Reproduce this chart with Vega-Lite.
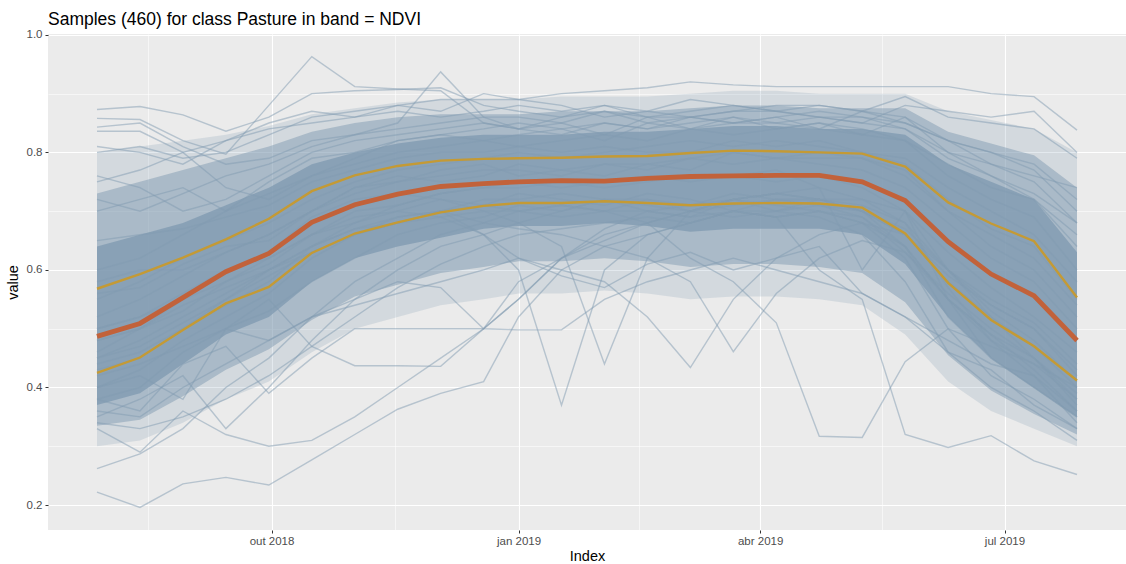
{
"$schema": "https://vega.github.io/schema/vega-lite/v6.json",
"width": 1078, "height": 496,
"autosize": "none",
"padding": {"left": 48, "top": 34, "right": 0, "bottom": 34},
"background": "white",
"title": {"text": "Samples (460) for class Pasture in band = NDVI", "anchor": "start", "frame": "group", "fontSize": 17.5, "font": "Liberation Sans", "fontWeight": "normal", "color": "black", "baseline": "alphabetic", "offset": -14},
"config": {
  "view": {"fill": "#EBEBEB", "stroke": null},
  "axis": {"domain": false, "labelColor": "#4D4D4D", "labelFont": "Liberation Sans", "labelFontSize": 11.5, "titleFont": "Liberation Sans", "titleFontSize": 14.5, "titleFontWeight": "normal", "titleColor": "black", "tickColor": "#333333", "tickSize": 3, "tickWidth": 1, "gridColor": "white"}
},
"datasets": {
"q": [
{"i":0,"d":"2018-07-28","med":0.487,"q25":0.425,"q75":0.568,"lo1":0.37,"hi1":0.64,"lo2":0.335,"hi2":0.73,"lo3":0.30,"hi3":0.80},
{"i":1,"d":"2018-08-13","med":0.509,"q25":0.451,"q75":0.593,"lo1":0.39,"hi1":0.66,"lo2":0.345,"hi2":0.75,"lo3":0.31,"hi3":0.81},
{"i":2,"d":"2018-08-29","med":0.553,"q25":0.498,"q75":0.621,"lo1":0.44,"hi1":0.68,"lo2":0.385,"hi2":0.77,"lo3":0.34,"hi3":0.82},
{"i":3,"d":"2018-09-14","med":0.597,"q25":0.543,"q75":0.652,"lo1":0.49,"hi1":0.71,"lo2":0.43,"hi2":0.79,"lo3":0.38,"hi3":0.83},
{"i":4,"d":"2018-09-30","med":0.628,"q25":0.571,"q75":0.687,"lo1":0.52,"hi1":0.74,"lo2":0.465,"hi2":0.81,"lo3":0.41,"hi3":0.845},
{"i":5,"d":"2018-10-16","med":0.681,"q25":0.629,"q75":0.734,"lo1":0.58,"hi1":0.78,"lo2":0.515,"hi2":0.835,"lo3":0.46,"hi3":0.865},
{"i":6,"d":"2018-11-01","med":0.711,"q25":0.662,"q75":0.761,"lo1":0.62,"hi1":0.80,"lo2":0.555,"hi2":0.85,"lo3":0.50,"hi3":0.875},
{"i":7,"d":"2018-11-17","med":0.729,"q25":0.681,"q75":0.777,"lo1":0.64,"hi1":0.815,"lo2":0.575,"hi2":0.86,"lo3":0.52,"hi3":0.885},
{"i":8,"d":"2018-12-03","med":0.742,"q25":0.698,"q75":0.786,"lo1":0.655,"hi1":0.825,"lo2":0.595,"hi2":0.865,"lo3":0.54,"hi3":0.89},
{"i":9,"d":"2018-12-19","med":0.747,"q25":0.709,"q75":0.789,"lo1":0.67,"hi1":0.83,"lo2":0.605,"hi2":0.865,"lo3":0.55,"hi3":0.89},
{"i":10,"d":"2019-01-01","med":0.750,"q25":0.714,"q75":0.790,"lo1":0.675,"hi1":0.83,"lo2":0.615,"hi2":0.865,"lo3":0.56,"hi3":0.89},
{"i":11,"d":"2019-01-17","med":0.752,"q25":0.714,"q75":0.791,"lo1":0.675,"hi1":0.83,"lo2":0.615,"hi2":0.87,"lo3":0.56,"hi3":0.895},
{"i":12,"d":"2019-02-02","med":0.751,"q25":0.717,"q75":0.793,"lo1":0.68,"hi1":0.835,"lo2":0.62,"hi2":0.87,"lo3":0.565,"hi3":0.895},
{"i":13,"d":"2019-02-18","med":0.756,"q25":0.714,"q75":0.794,"lo1":0.675,"hi1":0.835,"lo2":0.615,"hi2":0.87,"lo3":0.56,"hi3":0.895},
{"i":14,"d":"2019-03-06","med":0.759,"q25":0.710,"q75":0.799,"lo1":0.665,"hi1":0.84,"lo2":0.605,"hi2":0.875,"lo3":0.55,"hi3":0.90},
{"i":15,"d":"2019-03-22","med":0.760,"q25":0.713,"q75":0.803,"lo1":0.67,"hi1":0.845,"lo2":0.61,"hi2":0.88,"lo3":0.555,"hi3":0.905},
{"i":16,"d":"2019-04-07","med":0.761,"q25":0.714,"q75":0.802,"lo1":0.67,"hi1":0.845,"lo2":0.61,"hi2":0.88,"lo3":0.555,"hi3":0.905},
{"i":17,"d":"2019-04-23","med":0.761,"q25":0.713,"q75":0.800,"lo1":0.67,"hi1":0.84,"lo2":0.605,"hi2":0.875,"lo3":0.55,"hi3":0.90},
{"i":18,"d":"2019-05-09","med":0.750,"q25":0.706,"q75":0.798,"lo1":0.66,"hi1":0.84,"lo2":0.595,"hi2":0.875,"lo3":0.54,"hi3":0.90},
{"i":19,"d":"2019-05-25","med":0.718,"q25":0.662,"q75":0.776,"lo1":0.61,"hi1":0.83,"lo2":0.545,"hi2":0.875,"lo3":0.49,"hi3":0.90},
{"i":20,"d":"2019-06-10","med":0.648,"q25":0.578,"q75":0.715,"lo1":0.52,"hi1":0.78,"lo2":0.455,"hi2":0.835,"lo3":0.41,"hi3":0.87},
{"i":21,"d":"2019-06-26","med":0.593,"q25":0.515,"q75":0.679,"lo1":0.45,"hi1":0.75,"lo2":0.395,"hi2":0.815,"lo3":0.36,"hi3":0.855},
{"i":22,"d":"2019-07-12","med":0.556,"q25":0.470,"q75":0.649,"lo1":0.40,"hi1":0.72,"lo2":0.355,"hi2":0.795,"lo3":0.33,"hi3":0.84},
{"i":23,"d":"2019-07-28","med":0.480,"q25":0.412,"q75":0.553,"lo1":0.35,"hi1":0.63,"lo2":0.32,"hi2":0.74,"lo3":0.30,"hi3":0.80}
],
"s": [
{"s":1,"i":0,"v":0.873},{"s":1,"i":1,"v":0.878},{"s":1,"i":2,"v":0.864},{"s":1,"i":3,"v":0.836},{"s":1,"i":4,"v":0.86},{"s":1,"i":5,"v":0.90},{"s":1,"i":6,"v":0.905},{"s":1,"i":7,"v":0.907},{"s":1,"i":8,"v":0.91},{"s":1,"i":9,"v":0.88},{"s":1,"i":10,"v":0.87},{"s":1,"i":11,"v":0.86},{"s":1,"i":12,"v":0.88},{"s":1,"i":13,"v":0.86},{"s":1,"i":14,"v":0.87},{"s":1,"i":15,"v":0.88},{"s":1,"i":16,"v":0.87},{"s":1,"i":17,"v":0.86},{"s":1,"i":18,"v":0.86},{"s":1,"i":19,"v":0.85},{"s":1,"i":20,"v":0.82},{"s":1,"i":21,"v":0.80},{"s":1,"i":22,"v":0.78},{"s":1,"i":23,"v":0.72},
{"s":2,"i":0,"v":0.858},{"s":2,"i":1,"v":0.856},{"s":2,"i":2,"v":0.82},{"s":2,"i":3,"v":0.797},{"s":2,"i":4,"v":0.88},{"s":2,"i":5,"v":0.963},{"s":2,"i":6,"v":0.912},{"s":2,"i":7,"v":0.908},{"s":2,"i":8,"v":0.905},{"s":2,"i":9,"v":0.85},{"s":2,"i":10,"v":0.84},{"s":2,"i":11,"v":0.83},{"s":2,"i":12,"v":0.85},{"s":2,"i":13,"v":0.84},{"s":2,"i":14,"v":0.85},{"s":2,"i":15,"v":0.86},{"s":2,"i":16,"v":0.84},{"s":2,"i":17,"v":0.85},{"s":2,"i":18,"v":0.83},{"s":2,"i":19,"v":0.82},{"s":2,"i":20,"v":0.78},{"s":2,"i":21,"v":0.74},{"s":2,"i":22,"v":0.72},{"s":2,"i":23,"v":0.66},
{"s":3,"i":0,"v":0.843},{"s":3,"i":1,"v":0.85},{"s":3,"i":2,"v":0.81},{"s":3,"i":3,"v":0.78},{"s":3,"i":4,"v":0.79},{"s":3,"i":5,"v":0.82},{"s":3,"i":6,"v":0.83},{"s":3,"i":7,"v":0.85},{"s":3,"i":8,"v":0.937},{"s":3,"i":9,"v":0.86},{"s":3,"i":10,"v":0.84},{"s":3,"i":11,"v":0.85},{"s":3,"i":12,"v":0.83},{"s":3,"i":13,"v":0.86},{"s":3,"i":14,"v":0.84},{"s":3,"i":15,"v":0.85},{"s":3,"i":16,"v":0.85},{"s":3,"i":17,"v":0.84},{"s":3,"i":18,"v":0.87},{"s":3,"i":19,"v":0.86},{"s":3,"i":20,"v":0.80},{"s":3,"i":21,"v":0.76},{"s":3,"i":22,"v":0.73},{"s":3,"i":23,"v":0.68},
{"s":4,"i":0,"v":0.836},{"s":4,"i":1,"v":0.836},{"s":4,"i":2,"v":0.80},{"s":4,"i":3,"v":0.74},{"s":4,"i":4,"v":0.72},{"s":4,"i":5,"v":0.76},{"s":4,"i":6,"v":0.79},{"s":4,"i":7,"v":0.82},{"s":4,"i":8,"v":0.83},{"s":4,"i":9,"v":0.82},{"s":4,"i":10,"v":0.83},{"s":4,"i":11,"v":0.84},{"s":4,"i":12,"v":0.82},{"s":4,"i":13,"v":0.85},{"s":4,"i":14,"v":0.86},{"s":4,"i":15,"v":0.85},{"s":4,"i":16,"v":0.86},{"s":4,"i":17,"v":0.87},{"s":4,"i":18,"v":0.86},{"s":4,"i":19,"v":0.84},{"s":4,"i":20,"v":0.79},{"s":4,"i":21,"v":0.76},{"s":4,"i":22,"v":0.72},{"s":4,"i":23,"v":0.64},
{"s":5,"i":0,"v":0.80},{"s":5,"i":1,"v":0.81},{"s":5,"i":2,"v":0.79},{"s":5,"i":3,"v":0.80},{"s":5,"i":4,"v":0.83},{"s":5,"i":5,"v":0.86},{"s":5,"i":6,"v":0.87},{"s":5,"i":7,"v":0.88},{"s":5,"i":8,"v":0.89},{"s":5,"i":9,"v":0.89},{"s":5,"i":10,"v":0.89},{"s":5,"i":11,"v":0.90},{"s":5,"i":12,"v":0.905},{"s":5,"i":13,"v":0.91},{"s":5,"i":14,"v":0.92},{"s":5,"i":15,"v":0.915},{"s":5,"i":16,"v":0.912},{"s":5,"i":17,"v":0.912},{"s":5,"i":18,"v":0.912},{"s":5,"i":19,"v":0.912},{"s":5,"i":20,"v":0.912},{"s":5,"i":21,"v":0.90},{"s":5,"i":22,"v":0.895},{"s":5,"i":23,"v":0.838},
{"s":6,"i":0,"v":0.75},{"s":6,"i":1,"v":0.77},{"s":6,"i":2,"v":0.80},{"s":6,"i":3,"v":0.82},{"s":6,"i":4,"v":0.84},{"s":6,"i":5,"v":0.85},{"s":6,"i":6,"v":0.86},{"s":6,"i":7,"v":0.87},{"s":6,"i":8,"v":0.86},{"s":6,"i":9,"v":0.87},{"s":6,"i":10,"v":0.88},{"s":6,"i":11,"v":0.87},{"s":6,"i":12,"v":0.88},{"s":6,"i":13,"v":0.87},{"s":6,"i":14,"v":0.86},{"s":6,"i":15,"v":0.87},{"s":6,"i":16,"v":0.88},{"s":6,"i":17,"v":0.88},{"s":6,"i":18,"v":0.87},{"s":6,"i":19,"v":0.895},{"s":6,"i":20,"v":0.86},{"s":6,"i":21,"v":0.85},{"s":6,"i":22,"v":0.84},{"s":6,"i":23,"v":0.79},
{"s":7,"i":0,"v":0.81},{"s":7,"i":1,"v":0.80},{"s":7,"i":2,"v":0.78},{"s":7,"i":3,"v":0.82},{"s":7,"i":4,"v":0.85},{"s":7,"i":5,"v":0.87},{"s":7,"i":6,"v":0.86},{"s":7,"i":7,"v":0.88},{"s":7,"i":8,"v":0.87},{"s":7,"i":9,"v":0.90},{"s":7,"i":10,"v":0.89},{"s":7,"i":11,"v":0.88},{"s":7,"i":12,"v":0.86},{"s":7,"i":13,"v":0.87},{"s":7,"i":14,"v":0.89},{"s":7,"i":15,"v":0.88},{"s":7,"i":16,"v":0.87},{"s":7,"i":17,"v":0.86},{"s":7,"i":18,"v":0.85},{"s":7,"i":19,"v":0.88},{"s":7,"i":20,"v":0.87},{"s":7,"i":21,"v":0.86},{"s":7,"i":22,"v":0.87},{"s":7,"i":23,"v":0.80},
{"s":8,"i":0,"v":0.222},{"s":8,"i":1,"v":0.196},{"s":8,"i":2,"v":0.236},{"s":8,"i":3,"v":0.247},{"s":8,"i":4,"v":0.234},{"s":8,"i":5,"v":0.277},{"s":8,"i":6,"v":0.32},{"s":8,"i":7,"v":0.363},{"s":8,"i":8,"v":0.39},{"s":8,"i":9,"v":0.41},{"s":8,"i":10,"v":0.52},{"s":8,"i":11,"v":0.60},{"s":8,"i":12,"v":0.64},{"s":8,"i":13,"v":0.66},{"s":8,"i":14,"v":0.68},{"s":8,"i":15,"v":0.70},{"s":8,"i":16,"v":0.69},{"s":8,"i":17,"v":0.70},{"s":8,"i":18,"v":0.68},{"s":8,"i":19,"v":0.64},{"s":8,"i":20,"v":0.55},{"s":8,"i":21,"v":0.48},{"s":8,"i":22,"v":0.44},{"s":8,"i":23,"v":0.38},
{"s":9,"i":0,"v":0.262},{"s":9,"i":1,"v":0.287},{"s":9,"i":2,"v":0.33},{"s":9,"i":3,"v":0.40},{"s":9,"i":4,"v":0.45},{"s":9,"i":5,"v":0.52},{"s":9,"i":6,"v":0.58},{"s":9,"i":7,"v":0.62},{"s":9,"i":8,"v":0.66},{"s":9,"i":9,"v":0.68},{"s":9,"i":10,"v":0.70},{"s":9,"i":11,"v":0.71},{"s":9,"i":12,"v":0.70},{"s":9,"i":13,"v":0.72},{"s":9,"i":14,"v":0.71},{"s":9,"i":15,"v":0.72},{"s":9,"i":16,"v":0.73},{"s":9,"i":17,"v":0.72},{"s":9,"i":18,"v":0.70},{"s":9,"i":19,"v":0.66},{"s":9,"i":20,"v":0.58},{"s":9,"i":21,"v":0.52},{"s":9,"i":22,"v":0.47},{"s":9,"i":23,"v":0.40},
{"s":10,"i":0,"v":0.33},{"s":10,"i":1,"v":0.29},{"s":10,"i":2,"v":0.36},{"s":10,"i":3,"v":0.32},{"s":10,"i":4,"v":0.30},{"s":10,"i":5,"v":0.31},{"s":10,"i":6,"v":0.35},{"s":10,"i":7,"v":0.40},{"s":10,"i":8,"v":0.45},{"s":10,"i":9,"v":0.50},{"s":10,"i":10,"v":0.55},{"s":10,"i":11,"v":0.62},{"s":10,"i":12,"v":0.66},{"s":10,"i":13,"v":0.68},{"s":10,"i":14,"v":0.70},{"s":10,"i":15,"v":0.69},{"s":10,"i":16,"v":0.70},{"s":10,"i":17,"v":0.71},{"s":10,"i":18,"v":0.69},{"s":10,"i":19,"v":0.64},{"s":10,"i":20,"v":0.55},{"s":10,"i":21,"v":0.49},{"s":10,"i":22,"v":0.43},{"s":10,"i":23,"v":0.36},
{"s":11,"i":0,"v":0.35},{"s":11,"i":1,"v":0.38},{"s":11,"i":2,"v":0.42},{"s":11,"i":3,"v":0.33},{"s":11,"i":4,"v":0.40},{"s":11,"i":5,"v":0.48},{"s":11,"i":6,"v":0.55},{"s":11,"i":7,"v":0.60},{"s":11,"i":8,"v":0.64},{"s":11,"i":9,"v":0.66},{"s":11,"i":10,"v":0.68},{"s":11,"i":11,"v":0.70},{"s":11,"i":12,"v":0.72},{"s":11,"i":13,"v":0.70},{"s":11,"i":14,"v":0.71},{"s":11,"i":15,"v":0.73},{"s":11,"i":16,"v":0.72},{"s":11,"i":17,"v":0.72},{"s":11,"i":18,"v":0.71},{"s":11,"i":19,"v":0.68},{"s":11,"i":20,"v":0.60},{"s":11,"i":21,"v":0.53},{"s":11,"i":22,"v":0.48},{"s":11,"i":23,"v":0.41},
{"s":12,"i":0,"v":0.38},{"s":12,"i":1,"v":0.36},{"s":12,"i":2,"v":0.44},{"s":12,"i":3,"v":0.47},{"s":12,"i":4,"v":0.39},{"s":12,"i":5,"v":0.45},{"s":12,"i":6,"v":0.50},{"s":12,"i":7,"v":0.50},{"s":12,"i":8,"v":0.50},{"s":12,"i":9,"v":0.50},{"s":12,"i":10,"v":0.55},{"s":12,"i":11,"v":0.62},{"s":12,"i":12,"v":0.65},{"s":12,"i":13,"v":0.68},{"s":12,"i":14,"v":0.70},{"s":12,"i":15,"v":0.72},{"s":12,"i":16,"v":0.71},{"s":12,"i":17,"v":0.70},{"s":12,"i":18,"v":0.69},{"s":12,"i":19,"v":0.63},{"s":12,"i":20,"v":0.56},{"s":12,"i":21,"v":0.50},{"s":12,"i":22,"v":0.45},{"s":12,"i":23,"v":0.38},
{"s":13,"i":0,"v":0.40},{"s":13,"i":1,"v":0.42},{"s":13,"i":2,"v":0.38},{"s":13,"i":3,"v":0.50},{"s":13,"i":4,"v":0.55},{"s":13,"i":5,"v":0.47},{"s":13,"i":6,"v":0.437},{"s":13,"i":7,"v":0.437},{"s":13,"i":8,"v":0.436},{"s":13,"i":9,"v":0.50},{"s":13,"i":10,"v":0.58},{"s":13,"i":11,"v":0.62},{"s":13,"i":12,"v":0.67},{"s":13,"i":13,"v":0.70},{"s":13,"i":14,"v":0.69},{"s":13,"i":15,"v":0.72},{"s":13,"i":16,"v":0.70},{"s":13,"i":17,"v":0.72},{"s":13,"i":18,"v":0.70},{"s":13,"i":19,"v":0.66},{"s":13,"i":20,"v":0.59},{"s":13,"i":21,"v":0.54},{"s":13,"i":22,"v":0.50},{"s":13,"i":23,"v":0.42},
{"s":14,"i":0,"v":0.46},{"s":14,"i":1,"v":0.50},{"s":14,"i":2,"v":0.55},{"s":14,"i":3,"v":0.58},{"s":14,"i":4,"v":0.62},{"s":14,"i":5,"v":0.66},{"s":14,"i":6,"v":0.68},{"s":14,"i":7,"v":0.70},{"s":14,"i":8,"v":0.69},{"s":14,"i":9,"v":0.66},{"s":14,"i":10,"v":0.60},{"s":14,"i":11,"v":0.37},{"s":14,"i":12,"v":0.60},{"s":14,"i":13,"v":0.66},{"s":14,"i":14,"v":0.68},{"s":14,"i":15,"v":0.70},{"s":14,"i":16,"v":0.72},{"s":14,"i":17,"v":0.71},{"s":14,"i":18,"v":0.70},{"s":14,"i":19,"v":0.67},{"s":14,"i":20,"v":0.60},{"s":14,"i":21,"v":0.54},{"s":14,"i":22,"v":0.50},{"s":14,"i":23,"v":0.43},
{"s":15,"i":0,"v":0.50},{"s":15,"i":1,"v":0.52},{"s":15,"i":2,"v":0.56},{"s":15,"i":3,"v":0.60},{"s":15,"i":4,"v":0.63},{"s":15,"i":5,"v":0.69},{"s":15,"i":6,"v":0.72},{"s":15,"i":7,"v":0.73},{"s":15,"i":8,"v":0.72},{"s":15,"i":9,"v":0.70},{"s":15,"i":10,"v":0.68},{"s":15,"i":11,"v":0.64},{"s":15,"i":12,"v":0.44},{"s":15,"i":13,"v":0.62},{"s":15,"i":14,"v":0.70},{"s":15,"i":15,"v":0.72},{"s":15,"i":16,"v":0.73},{"s":15,"i":17,"v":0.74},{"s":15,"i":18,"v":0.72},{"s":15,"i":19,"v":0.70},{"s":15,"i":20,"v":0.63},{"s":15,"i":21,"v":0.57},{"s":15,"i":22,"v":0.52},{"s":15,"i":23,"v":0.46},
{"s":16,"i":0,"v":0.44},{"s":16,"i":1,"v":0.46},{"s":16,"i":2,"v":0.50},{"s":16,"i":3,"v":0.55},{"s":16,"i":4,"v":0.60},{"s":16,"i":5,"v":0.63},{"s":16,"i":6,"v":0.66},{"s":16,"i":7,"v":0.68},{"s":16,"i":8,"v":0.70},{"s":16,"i":9,"v":0.66},{"s":16,"i":10,"v":0.62},{"s":16,"i":11,"v":0.60},{"s":16,"i":12,"v":0.58},{"s":16,"i":13,"v":0.52},{"s":16,"i":14,"v":0.434},{"s":16,"i":15,"v":0.55},{"s":16,"i":16,"v":0.62},{"s":16,"i":17,"v":0.66},{"s":16,"i":18,"v":0.68},{"s":16,"i":19,"v":0.66},{"s":16,"i":20,"v":0.60},{"s":16,"i":21,"v":0.55},{"s":16,"i":22,"v":0.51},{"s":16,"i":23,"v":0.44},
{"s":17,"i":0,"v":0.45},{"s":17,"i":1,"v":0.48},{"s":17,"i":2,"v":0.52},{"s":17,"i":3,"v":0.56},{"s":17,"i":4,"v":0.60},{"s":17,"i":5,"v":0.64},{"s":17,"i":6,"v":0.67},{"s":17,"i":7,"v":0.68},{"s":17,"i":8,"v":0.70},{"s":17,"i":9,"v":0.71},{"s":17,"i":10,"v":0.70},{"s":17,"i":11,"v":0.69},{"s":17,"i":12,"v":0.70},{"s":17,"i":13,"v":0.68},{"s":17,"i":14,"v":0.62},{"s":17,"i":15,"v":0.58},{"s":17,"i":16,"v":0.51},{"s":17,"i":17,"v":0.317},{"s":17,"i":18,"v":0.315},{"s":17,"i":19,"v":0.444},{"s":17,"i":20,"v":0.50},{"s":17,"i":21,"v":0.47},{"s":17,"i":22,"v":0.44},{"s":17,"i":23,"v":0.40},
{"s":18,"i":0,"v":0.50},{"s":18,"i":1,"v":0.52},{"s":18,"i":2,"v":0.55},{"s":18,"i":3,"v":0.60},{"s":18,"i":4,"v":0.62},{"s":18,"i":5,"v":0.66},{"s":18,"i":6,"v":0.69},{"s":18,"i":7,"v":0.70},{"s":18,"i":8,"v":0.72},{"s":18,"i":9,"v":0.71},{"s":18,"i":10,"v":0.73},{"s":18,"i":11,"v":0.72},{"s":18,"i":12,"v":0.71},{"s":18,"i":13,"v":0.73},{"s":18,"i":14,"v":0.72},{"s":18,"i":15,"v":0.70},{"s":18,"i":16,"v":0.69},{"s":18,"i":17,"v":0.60},{"s":18,"i":18,"v":0.55},{"s":18,"i":19,"v":0.32},{"s":18,"i":20,"v":0.298},{"s":18,"i":21,"v":0.318},{"s":18,"i":22,"v":0.275},{"s":18,"i":23,"v":0.252},
{"s":19,"i":0,"v":0.48},{"s":19,"i":1,"v":0.50},{"s":19,"i":2,"v":0.54},{"s":19,"i":3,"v":0.57},{"s":19,"i":4,"v":0.60},{"s":19,"i":5,"v":0.64},{"s":19,"i":6,"v":0.67},{"s":19,"i":7,"v":0.69},{"s":19,"i":8,"v":0.70},{"s":19,"i":9,"v":0.68},{"s":19,"i":10,"v":0.67},{"s":19,"i":11,"v":0.66},{"s":19,"i":12,"v":0.64},{"s":19,"i":13,"v":0.62},{"s":19,"i":14,"v":0.58},{"s":19,"i":15,"v":0.461},{"s":19,"i":16,"v":0.56},{"s":19,"i":17,"v":0.62},{"s":19,"i":18,"v":0.65},{"s":19,"i":19,"v":0.63},{"s":19,"i":20,"v":0.55},{"s":19,"i":21,"v":0.49},{"s":19,"i":22,"v":0.45},{"s":19,"i":23,"v":0.39},
{"s":20,"i":0,"v":0.42},{"s":20,"i":1,"v":0.44},{"s":20,"i":2,"v":0.47},{"s":20,"i":3,"v":0.50},{"s":20,"i":4,"v":0.48},{"s":20,"i":5,"v":0.52},{"s":20,"i":6,"v":0.55},{"s":20,"i":7,"v":0.58},{"s":20,"i":8,"v":0.57},{"s":20,"i":9,"v":0.50},{"s":20,"i":10,"v":0.498},{"s":20,"i":11,"v":0.498},{"s":20,"i":12,"v":0.55},{"s":20,"i":13,"v":0.58},{"s":20,"i":14,"v":0.60},{"s":20,"i":15,"v":0.62},{"s":20,"i":16,"v":0.60},{"s":20,"i":17,"v":0.58},{"s":20,"i":18,"v":0.56},{"s":20,"i":19,"v":0.52},{"s":20,"i":20,"v":0.48},{"s":20,"i":21,"v":0.44},{"s":20,"i":22,"v":0.42},{"s":20,"i":23,"v":0.36},
{"s":21,"i":0,"v":0.36},{"s":21,"i":1,"v":0.35},{"s":21,"i":2,"v":0.40},{"s":21,"i":3,"v":0.44},{"s":21,"i":4,"v":0.48},{"s":21,"i":5,"v":0.52},{"s":21,"i":6,"v":0.54},{"s":21,"i":7,"v":0.56},{"s":21,"i":8,"v":0.58},{"s":21,"i":9,"v":0.60},{"s":21,"i":10,"v":0.62},{"s":21,"i":11,"v":0.59},{"s":21,"i":12,"v":0.57},{"s":21,"i":13,"v":0.61},{"s":21,"i":14,"v":0.63},{"s":21,"i":15,"v":0.60},{"s":21,"i":16,"v":0.62},{"s":21,"i":17,"v":0.64},{"s":21,"i":18,"v":0.56},{"s":21,"i":19,"v":0.52},{"s":21,"i":20,"v":0.46},{"s":21,"i":21,"v":0.43},{"s":21,"i":22,"v":0.37},{"s":21,"i":23,"v":0.33},
{"s":22,"i":0,"v":0.60},{"s":22,"i":1,"v":0.62},{"s":22,"i":2,"v":0.66},{"s":22,"i":3,"v":0.70},{"s":22,"i":4,"v":0.73},{"s":22,"i":5,"v":0.76},{"s":22,"i":6,"v":0.78},{"s":22,"i":7,"v":0.80},{"s":22,"i":8,"v":0.81},{"s":22,"i":9,"v":0.82},{"s":22,"i":10,"v":0.81},{"s":22,"i":11,"v":0.82},{"s":22,"i":12,"v":0.83},{"s":22,"i":13,"v":0.82},{"s":22,"i":14,"v":0.84},{"s":22,"i":15,"v":0.83},{"s":22,"i":16,"v":0.84},{"s":22,"i":17,"v":0.85},{"s":22,"i":18,"v":0.84},{"s":22,"i":19,"v":0.82},{"s":22,"i":20,"v":0.76},{"s":22,"i":21,"v":0.72},{"s":22,"i":22,"v":0.69},{"s":22,"i":23,"v":0.60},
{"s":23,"i":0,"v":0.55},{"s":23,"i":1,"v":0.58},{"s":23,"i":2,"v":0.62},{"s":23,"i":3,"v":0.65},{"s":23,"i":4,"v":0.68},{"s":23,"i":5,"v":0.72},{"s":23,"i":6,"v":0.75},{"s":23,"i":7,"v":0.77},{"s":23,"i":8,"v":0.78},{"s":23,"i":9,"v":0.79},{"s":23,"i":10,"v":0.80},{"s":23,"i":11,"v":0.79},{"s":23,"i":12,"v":0.80},{"s":23,"i":13,"v":0.81},{"s":23,"i":14,"v":0.82},{"s":23,"i":15,"v":0.81},{"s":23,"i":16,"v":0.82},{"s":23,"i":17,"v":0.81},{"s":23,"i":18,"v":0.80},{"s":23,"i":19,"v":0.78},{"s":23,"i":20,"v":0.72},{"s":23,"i":21,"v":0.67},{"s":23,"i":22,"v":0.64},{"s":23,"i":23,"v":0.55},
{"s":24,"i":0,"v":0.70},{"s":24,"i":1,"v":0.72},{"s":24,"i":2,"v":0.74},{"s":24,"i":3,"v":0.70},{"s":24,"i":4,"v":0.75},{"s":24,"i":5,"v":0.79},{"s":24,"i":6,"v":0.80},{"s":24,"i":7,"v":0.82},{"s":24,"i":8,"v":0.83},{"s":24,"i":9,"v":0.84},{"s":24,"i":10,"v":0.85},{"s":24,"i":11,"v":0.84},{"s":24,"i":12,"v":0.85},{"s":24,"i":13,"v":0.84},{"s":24,"i":14,"v":0.86},{"s":24,"i":15,"v":0.85},{"s":24,"i":16,"v":0.86},{"s":24,"i":17,"v":0.84},{"s":24,"i":18,"v":0.83},{"s":24,"i":19,"v":0.86},{"s":24,"i":20,"v":0.82},{"s":24,"i":21,"v":0.80},{"s":24,"i":22,"v":0.77},{"s":24,"i":23,"v":0.70},
{"s":25,"i":0,"v":0.76},{"s":25,"i":1,"v":0.74},{"s":25,"i":2,"v":0.70},{"s":25,"i":3,"v":0.72},{"s":25,"i":4,"v":0.76},{"s":25,"i":5,"v":0.80},{"s":25,"i":6,"v":0.82},{"s":25,"i":7,"v":0.83},{"s":25,"i":8,"v":0.84},{"s":25,"i":9,"v":0.85},{"s":25,"i":10,"v":0.84},{"s":25,"i":11,"v":0.86},{"s":25,"i":12,"v":0.87},{"s":25,"i":13,"v":0.85},{"s":25,"i":14,"v":0.84},{"s":25,"i":15,"v":0.86},{"s":25,"i":16,"v":0.85},{"s":25,"i":17,"v":0.86},{"s":25,"i":18,"v":0.85},{"s":25,"i":19,"v":0.84},{"s":25,"i":20,"v":0.80},{"s":25,"i":21,"v":0.78},{"s":25,"i":22,"v":0.76},{"s":25,"i":23,"v":0.74},
{"s":26,"i":0,"v":0.40},{"s":26,"i":1,"v":0.43},{"s":26,"i":2,"v":0.48},{"s":26,"i":3,"v":0.52},{"s":26,"i":4,"v":0.56},{"s":26,"i":5,"v":0.62},{"s":26,"i":6,"v":0.66},{"s":26,"i":7,"v":0.69},{"s":26,"i":8,"v":0.70},{"s":26,"i":9,"v":0.72},{"s":26,"i":10,"v":0.72},{"s":26,"i":11,"v":0.73},{"s":26,"i":12,"v":0.72},{"s":26,"i":13,"v":0.72},{"s":26,"i":14,"v":0.70},{"s":26,"i":15,"v":0.71},{"s":26,"i":16,"v":0.72},{"s":26,"i":17,"v":0.72},{"s":26,"i":18,"v":0.70},{"s":26,"i":19,"v":0.64},{"s":26,"i":20,"v":0.52},{"s":26,"i":21,"v":0.45},{"s":26,"i":22,"v":0.40},{"s":26,"i":23,"v":0.35},
{"s":27,"i":0,"v":0.43},{"s":27,"i":1,"v":0.45},{"s":27,"i":2,"v":0.50},{"s":27,"i":3,"v":0.54},{"s":27,"i":4,"v":0.58},{"s":27,"i":5,"v":0.64},{"s":27,"i":6,"v":0.68},{"s":27,"i":7,"v":0.71},{"s":27,"i":8,"v":0.73},{"s":27,"i":9,"v":0.74},{"s":27,"i":10,"v":0.74},{"s":27,"i":11,"v":0.75},{"s":27,"i":12,"v":0.74},{"s":27,"i":13,"v":0.75},{"s":27,"i":14,"v":0.76},{"s":27,"i":15,"v":0.76},{"s":27,"i":16,"v":0.75},{"s":27,"i":17,"v":0.76},{"s":27,"i":18,"v":0.74},{"s":27,"i":19,"v":0.70},{"s":27,"i":20,"v":0.60},{"s":27,"i":21,"v":0.52},{"s":27,"i":22,"v":0.45},{"s":27,"i":23,"v":0.37},
{"s":28,"i":0,"v":0.52},{"s":28,"i":1,"v":0.55},{"s":28,"i":2,"v":0.59},{"s":28,"i":3,"v":0.63},{"s":28,"i":4,"v":0.66},{"s":28,"i":5,"v":0.70},{"s":28,"i":6,"v":0.73},{"s":28,"i":7,"v":0.75},{"s":28,"i":8,"v":0.76},{"s":28,"i":9,"v":0.77},{"s":28,"i":10,"v":0.77},{"s":28,"i":11,"v":0.76},{"s":28,"i":12,"v":0.78},{"s":28,"i":13,"v":0.78},{"s":28,"i":14,"v":0.79},{"s":28,"i":15,"v":0.78},{"s":28,"i":16,"v":0.79},{"s":28,"i":17,"v":0.78},{"s":28,"i":18,"v":0.77},{"s":28,"i":19,"v":0.74},{"s":28,"i":20,"v":0.68},{"s":28,"i":21,"v":0.62},{"s":28,"i":22,"v":0.58},{"s":28,"i":23,"v":0.50},
{"s":29,"i":0,"v":0.38},{"s":29,"i":1,"v":0.40},{"s":29,"i":2,"v":0.46},{"s":29,"i":3,"v":0.50},{"s":29,"i":4,"v":0.53},{"s":29,"i":5,"v":0.58},{"s":29,"i":6,"v":0.62},{"s":29,"i":7,"v":0.66},{"s":29,"i":8,"v":0.68},{"s":29,"i":9,"v":0.69},{"s":29,"i":10,"v":0.71},{"s":29,"i":11,"v":0.70},{"s":29,"i":12,"v":0.72},{"s":29,"i":13,"v":0.71},{"s":29,"i":14,"v":0.70},{"s":29,"i":15,"v":0.72},{"s":29,"i":16,"v":0.73},{"s":29,"i":17,"v":0.72},{"s":29,"i":18,"v":0.72},{"s":29,"i":19,"v":0.68},{"s":29,"i":20,"v":0.57},{"s":29,"i":21,"v":0.48},{"s":29,"i":22,"v":0.42},{"s":29,"i":23,"v":0.34},
{"s":30,"i":0,"v":0.65},{"s":30,"i":1,"v":0.66},{"s":30,"i":2,"v":0.67},{"s":30,"i":3,"v":0.69},{"s":30,"i":4,"v":0.71},{"s":30,"i":5,"v":0.75},{"s":30,"i":6,"v":0.77},{"s":30,"i":7,"v":0.79},{"s":30,"i":8,"v":0.80},{"s":30,"i":9,"v":0.80},{"s":30,"i":10,"v":0.81},{"s":30,"i":11,"v":0.80},{"s":30,"i":12,"v":0.81},{"s":30,"i":13,"v":0.80},{"s":30,"i":14,"v":0.80},{"s":30,"i":15,"v":0.82},{"s":30,"i":16,"v":0.81},{"s":30,"i":17,"v":0.82},{"s":30,"i":18,"v":0.80},{"s":30,"i":19,"v":0.79},{"s":30,"i":20,"v":0.74},{"s":30,"i":21,"v":0.70},{"s":30,"i":22,"v":0.66},{"s":30,"i":23,"v":0.58},
{"s":31,"i":0,"v":0.58},{"s":31,"i":1,"v":0.60},{"s":31,"i":2,"v":0.60},{"s":31,"i":3,"v":0.63},{"s":31,"i":4,"v":0.66},{"s":31,"i":5,"v":0.70},{"s":31,"i":6,"v":0.74},{"s":31,"i":7,"v":0.76},{"s":31,"i":8,"v":0.75},{"s":31,"i":9,"v":0.76},{"s":31,"i":10,"v":0.78},{"s":31,"i":11,"v":0.77},{"s":31,"i":12,"v":0.76},{"s":31,"i":13,"v":0.78},{"s":31,"i":14,"v":0.77},{"s":31,"i":15,"v":0.80},{"s":31,"i":16,"v":0.79},{"s":31,"i":17,"v":0.80},{"s":31,"i":18,"v":0.79},{"s":31,"i":19,"v":0.76},{"s":31,"i":20,"v":0.70},{"s":31,"i":21,"v":0.64},{"s":31,"i":22,"v":0.60},{"s":31,"i":23,"v":0.52},
{"s":32,"i":0,"v":0.45},{"s":32,"i":1,"v":0.47},{"s":32,"i":2,"v":0.51},{"s":32,"i":3,"v":0.55},{"s":32,"i":4,"v":0.59},{"s":32,"i":5,"v":0.63},{"s":32,"i":6,"v":0.66},{"s":32,"i":7,"v":0.68},{"s":32,"i":8,"v":0.69},{"s":32,"i":9,"v":0.70},{"s":32,"i":10,"v":0.70},{"s":32,"i":11,"v":0.71},{"s":32,"i":12,"v":0.70},{"s":32,"i":13,"v":0.70},{"s":32,"i":14,"v":0.69},{"s":32,"i":15,"v":0.70},{"s":32,"i":16,"v":0.70},{"s":32,"i":17,"v":0.69},{"s":32,"i":18,"v":0.66},{"s":32,"i":19,"v":0.58},{"s":32,"i":20,"v":0.46},{"s":32,"i":21,"v":0.40},{"s":32,"i":22,"v":0.36},{"s":32,"i":23,"v":0.31},
{"s":33,"i":0,"v":0.34},{"s":33,"i":1,"v":0.33},{"s":33,"i":2,"v":0.35},{"s":33,"i":3,"v":0.38},{"s":33,"i":4,"v":0.42},{"s":33,"i":5,"v":0.47},{"s":33,"i":6,"v":0.52},{"s":33,"i":7,"v":0.57},{"s":33,"i":8,"v":0.61},{"s":33,"i":9,"v":0.64},{"s":33,"i":10,"v":0.66},{"s":33,"i":11,"v":0.67},{"s":33,"i":12,"v":0.68},{"s":33,"i":13,"v":0.69},{"s":33,"i":14,"v":0.68},{"s":33,"i":15,"v":0.70},{"s":33,"i":16,"v":0.69},{"s":33,"i":17,"v":0.70},{"s":33,"i":18,"v":0.68},{"s":33,"i":19,"v":0.62},{"s":33,"i":20,"v":0.50},{"s":33,"i":21,"v":0.42},{"s":33,"i":22,"v":0.38},{"s":33,"i":23,"v":0.33},
{"s":34,"i":0,"v":0.48},{"s":34,"i":1,"v":0.50},{"s":34,"i":2,"v":0.53},{"s":34,"i":3,"v":0.58},{"s":34,"i":4,"v":0.61},{"s":34,"i":5,"v":0.66},{"s":34,"i":6,"v":0.70},{"s":34,"i":7,"v":0.71},{"s":34,"i":8,"v":0.73},{"s":34,"i":9,"v":0.74},{"s":34,"i":10,"v":0.75},{"s":34,"i":11,"v":0.74},{"s":34,"i":12,"v":0.75},{"s":34,"i":13,"v":0.76},{"s":34,"i":14,"v":0.75},{"s":34,"i":15,"v":0.76},{"s":34,"i":16,"v":0.77},{"s":34,"i":17,"v":0.74},{"s":34,"i":18,"v":0.60},{"s":34,"i":19,"v":0.70},{"s":34,"i":20,"v":0.55},{"s":34,"i":21,"v":0.45},{"s":34,"i":22,"v":0.40},{"s":34,"i":23,"v":0.35},
{"s":35,"i":0,"v":0.56},{"s":35,"i":1,"v":0.57},{"s":35,"i":2,"v":0.61},{"s":35,"i":3,"v":0.64},{"s":35,"i":4,"v":0.65},{"s":35,"i":5,"v":0.70},{"s":35,"i":6,"v":0.74},{"s":35,"i":7,"v":0.75},{"s":35,"i":8,"v":0.77},{"s":35,"i":9,"v":0.78},{"s":35,"i":10,"v":0.76},{"s":35,"i":11,"v":0.77},{"s":35,"i":12,"v":0.78},{"s":35,"i":13,"v":0.77},{"s":35,"i":14,"v":0.79},{"s":35,"i":15,"v":0.80},{"s":35,"i":16,"v":0.79},{"s":35,"i":17,"v":0.79},{"s":35,"i":18,"v":0.79},{"s":35,"i":19,"v":0.77},{"s":35,"i":20,"v":0.70},{"s":35,"i":21,"v":0.66},{"s":35,"i":22,"v":0.62},{"s":35,"i":23,"v":0.54},
{"s":36,"i":0,"v":0.72},{"s":36,"i":1,"v":0.70},{"s":36,"i":2,"v":0.73},{"s":36,"i":3,"v":0.76},{"s":36,"i":4,"v":0.78},{"s":36,"i":5,"v":0.81},{"s":36,"i":6,"v":0.83},{"s":36,"i":7,"v":0.84},{"s":36,"i":8,"v":0.85},{"s":36,"i":9,"v":0.86},{"s":36,"i":10,"v":0.86},{"s":36,"i":11,"v":0.85},{"s":36,"i":12,"v":0.87},{"s":36,"i":13,"v":0.86},{"s":36,"i":14,"v":0.86},{"s":36,"i":15,"v":0.87},{"s":36,"i":16,"v":0.87},{"s":36,"i":17,"v":0.88},{"s":36,"i":18,"v":0.87},{"s":36,"i":19,"v":0.85},{"s":36,"i":20,"v":0.82},{"s":36,"i":21,"v":0.78},{"s":36,"i":22,"v":0.75},{"s":36,"i":23,"v":0.68}
]
},
"layer": [
{
  "data": {"name": "q", "format": {"parse": {"d": "date"}}},
  "mark": {"type": "area", "color": "#819BB1", "opacity": 0.22},
  "encoding": {
    "x": {"field": "d", "type": "temporal", "title": "Index",
      "scale": {"type": "utc", "domain": [{"year": 2018, "month": 7, "date": 9, "hours": 18, "utc": true}, {"year": 2019, "month": 8, "date": 15, "hours": 6, "utc": true}], "nice": false},
      "axis": {"values": [
          {"year": 2018, "month": 8, "date": 16, "utc": true},
          {"year": 2018, "month": 10, "date": 1, "utc": true},
          {"year": 2018, "month": 11, "date": 16, "utc": true},
          {"year": 2019, "month": 1, "date": 1, "utc": true},
          {"year": 2019, "month": 2, "date": 15, "utc": true},
          {"year": 2019, "month": 4, "date": 1, "utc": true},
          {"year": 2019, "month": 5, "date": 16, "hours": 12, "utc": true},
          {"year": 2019, "month": 7, "date": 1, "utc": true}],
        "grid": true,
        "gridWidth": {"condition": {"test": "utcdate(datum.value) == 1", "value": 1.1}, "value": 0.55},
        "tickOpacity": {"condition": {"test": "utcdate(datum.value) == 1", "value": 1}, "value": 0},
        "labelExpr": "utcdate(datum.value) == 1 ? ['jan','fev','mar','abr','mai','jun','jul','ago','set','out','nov','dez'][utcmonth(datum.value)] + ' ' + utcyear(datum.value) : ''",
        "labelPadding": 2, "titlePadding": 3, "labelFlush": false, "labelOverlap": false}},
    "y": {"field": "lo3", "type": "quantitative", "title": "value",
      "scale": {"domain": [0.1575, 1.0015], "nice": false, "zero": false},
      "axis": {"values": [0.2, 0.3, 0.4, 0.5, 0.6, 0.7, 0.8, 0.9, 1.0],
        "grid": true,
        "gridWidth": {"condition": {"test": "round(datum.value*10) % 2 == 0", "value": 1.1}, "value": 0.55},
        "tickOpacity": {"condition": {"test": "round(datum.value*10) % 2 == 0", "value": 1}, "value": 0},
        "labelExpr": "round(datum.value*10) % 2 == 0 ? format(datum.value, '.1f') : ''",
        "labelPadding": 3, "titlePadding": 6, "labelFlush": false, "labelOverlap": false}},
    "y2": {"field": "hi3"}
  }
},
{
  "data": {"name": "q", "format": {"parse": {"d": "date"}}},
  "mark": {"type": "area", "color": "#819BB1", "opacity": 0.5},
  "encoding": {
    "x": {"field": "d", "type": "temporal"},
    "y": {"field": "lo2", "type": "quantitative", "title": "value"},
    "y2": {"field": "hi2"}
  }
},
{
  "data": {"name": "q", "format": {"parse": {"d": "date"}}},
  "mark": {"type": "area", "color": "#819BB1", "opacity": 0.8},
  "encoding": {
    "x": {"field": "d", "type": "temporal"},
    "y": {"field": "lo1", "type": "quantitative", "title": "value"},
    "y2": {"field": "hi1"}
  }
},
{
  "data": {"name": "s"},
  "transform": [{"lookup": "i", "from": {"data": {"name": "q", "format": {"parse": {"d": "date"}}}, "key": "i", "fields": ["d"]}}],
  "mark": {"type": "line", "color": "#819BB1", "opacity": 0.5, "strokeWidth": 1.4},
  "encoding": {
    "x": {"field": "d", "type": "temporal"},
    "y": {"field": "v", "type": "quantitative", "title": "value"},
    "detail": {"field": "s", "type": "nominal"}
  }
},
{
  "data": {"name": "q", "format": {"parse": {"d": "date"}}},
  "mark": {"type": "line", "color": "#C49A35", "strokeWidth": 2.4},
  "encoding": {
    "x": {"field": "d", "type": "temporal"},
    "y": {"field": "q25", "type": "quantitative", "title": "value"}
  }
},
{
  "data": {"name": "q", "format": {"parse": {"d": "date"}}},
  "mark": {"type": "line", "color": "#C49A35", "strokeWidth": 2.4},
  "encoding": {
    "x": {"field": "d", "type": "temporal"},
    "y": {"field": "q75", "type": "quantitative", "title": "value"}
  }
},
{
  "data": {"name": "q", "format": {"parse": {"d": "date"}}},
  "mark": {"type": "line", "color": "#C2623A", "strokeWidth": 4.8},
  "encoding": {
    "x": {"field": "d", "type": "temporal"},
    "y": {"field": "med", "type": "quantitative", "title": "value"}
  }
}
]
}
